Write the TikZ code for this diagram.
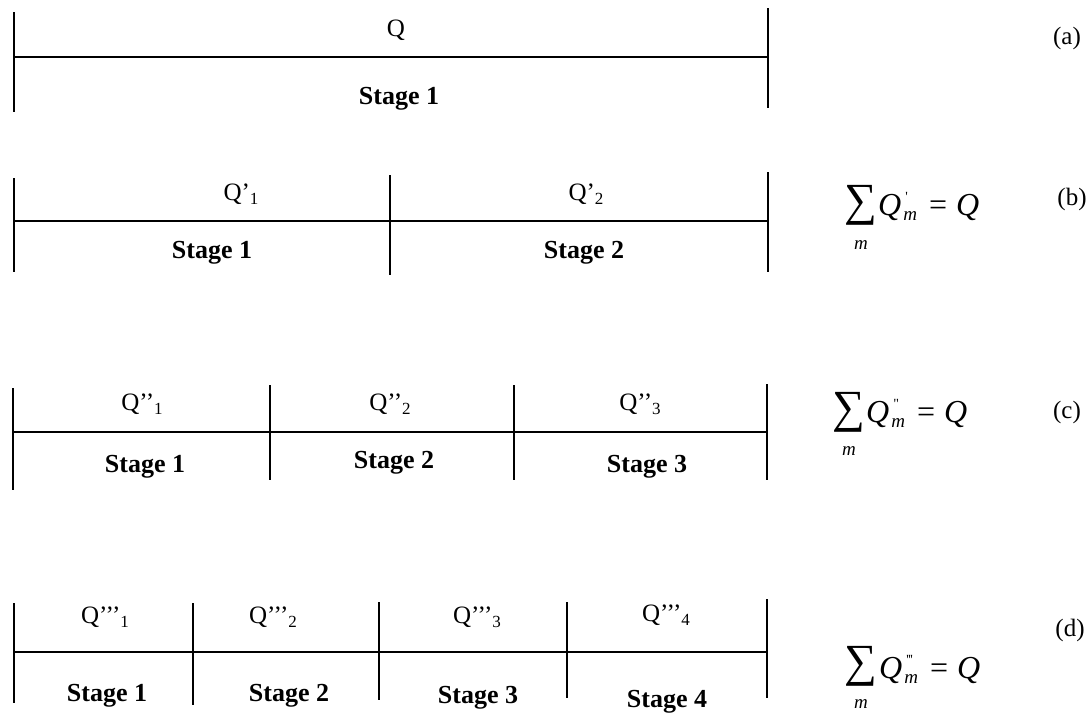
\documentclass[tikz,border=0pt]{standalone}
\usepackage{fontspec}
\setmainfont{Liberation Serif}
\begin{document}
\begin{tikzpicture}[x=1pt,y=-1pt,
  rule/.style={line width=1.8pt,black},
  qlab/.style={anchor=base,inner sep=0pt,font=\fontsize{25}{28}\selectfont},
  stlab/.style={anchor=base,inner sep=0pt,font=\fontsize{26}{30}\selectfont\bfseries},
  caselab/.style={inner sep=0pt,font=\fontsize{25}{28}\selectfont},
  sumsign/.style={inner sep=0pt,font=\fontsize{46}{50}\selectfont},
  sumidx/.style={inner sep=0pt,font=\fontsize{19}{21}\selectfont\itshape},
  sumrest/.style={anchor=base west,inner sep=0pt,font=\fontsize{32}{36}\selectfont\itshape}]
\useasboundingbox (0,0) rectangle (1092,713);
\newcommand\mysub[1]{\raisebox{-4pt}{\fontsize{17}{18}\selectfont\upshape #1}}
\newcommand\mysumrest[1]{Q\kern2pt\rlap{\kern2pt\raisebox{14pt}{\fontsize{14}{14}\selectfont\upshape #1}}\raisebox{-5pt}{\fontsize{19}{21}\selectfont m}\hspace{12pt}\upshape=\hspace{9pt}\itshape Q}

% ---------- row (a)
\coordinate (a0) at (14,57); \coordinate (a1) at (768,57);
\draw[rule] (14,12) -- (14,112);
\draw[rule] (768,8) -- (768,108);
\draw[rule] (a0) -- (a1);
\node[qlab] (qa) at (396,36) {Q};
\node[stlab] (sa) at (399,104) {Stage 1};
\node[caselab] (la) at (1067,38) {(a)};

% ---------- row (b)
\coordinate (b0) at (14,221); \coordinate (b1) at (768,221);
\draw[rule] (14,178) -- (14,272);
\draw[rule] (390,175) -- (390,275);
\draw[rule] (768,172) -- (768,272);
\draw[rule] (b0) -- (b1);
\node[qlab] (qb1) at (241,200) {Q’\mysub{1}};
\node[qlab] (qb2) at (586,200) {Q’\mysub{2}};
\node[stlab] (sb1) at (212,258) {Stage 1};
\node[stlab] (sb2) at (584,258) {Stage 2};
\node[sumsign] (sigb) at (861,205) {∑};
\node[sumidx] (mb) at (861,245) {m};
\node[sumrest] (fb) at (878,215) {\mysumrest{\textquotesingle}};
\node[caselab] (lb) at (1072,199) {(b)};

% ---------- row (c)
\coordinate (c0) at (13,432); \coordinate (c1) at (767,432);
\draw[rule] (13,388) -- (13,490);
\draw[rule] (270,385) -- (270,480);
\draw[rule] (514,385) -- (514,480);
\draw[rule] (767,384) -- (767,480);
\draw[rule] (c0) -- (c1);
\node[qlab] (qc1) at (142,410) {Q’’\mysub{1}};
\node[qlab] (qc2) at (390,410) {Q’’\mysub{2}};
\node[qlab] (qc3) at (640,410) {Q’’\mysub{3}};
\node[stlab] (sc1) at (145,472) {Stage 1};
\node[stlab] (sc2) at (394,468) {Stage 2};
\node[stlab] (sc3) at (647,472) {Stage 3};
\node[sumsign] (sigc) at (849,412) {∑};
\node[sumidx] (mc) at (849,451) {m};
\node[sumrest] (fc) at (866,422) {\mysumrest{\textquotedbl}};
\node[caselab] (lc) at (1067,412) {(c)};

% ---------- row (d)
\coordinate (d0) at (14,652); \coordinate (d1) at (768,652);
\draw[rule] (14,603) -- (14,703);
\draw[rule] (193,603) -- (193,705);
\draw[rule] (379,602) -- (379,700);
\draw[rule] (567,602) -- (567,698);
\draw[rule] (767,599) -- (767,698);
\draw[rule] (d0) -- (d1);
\node[qlab] (qd1) at (105,623) {Q’’’\mysub{1}};
\node[qlab] (qd2) at (273,623) {Q’’’\mysub{2}};
\node[qlab] (qd3) at (477,623) {Q’’’\mysub{3}};
\node[qlab] (qd4) at (666,621) {Q’’’\mysub{4}};
\node[stlab] (sd1) at (107,701) {Stage 1};
\node[stlab] (sd2) at (289,701) {Stage 2};
\node[stlab] (sd3) at (478,703) {Stage 3};
\node[stlab] (sd4) at (667,707) {Stage 4};
\node[sumsign] (sigd) at (861,666) {∑};
\node[sumidx] (md) at (861,704) {m};
\node[sumrest] (fd) at (879,678) {\mysumrest{\textquotesingle\kern-0.5pt\textquotesingle\kern-0.5pt\textquotesingle}};
\node[caselab] (ld) at (1070,630) {(d)};
\end{tikzpicture}
\end{document}
